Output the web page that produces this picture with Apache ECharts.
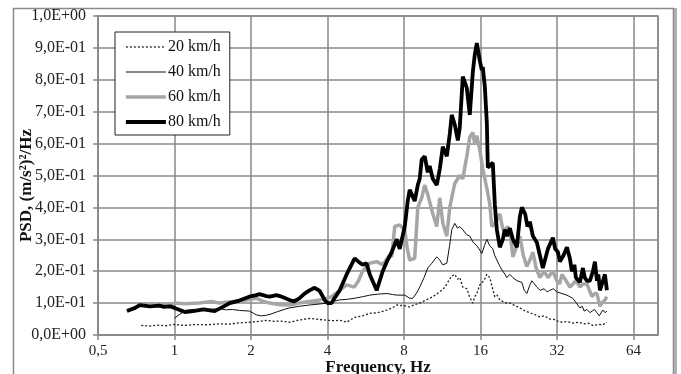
<!DOCTYPE html>
<html>
<head>
<meta charset="utf-8">
<script src="https://cdn.jsdelivr.net/npm/echarts@6/dist/echarts.min.js"></script>
<style>html,body{margin:0;padding:0;background:#fff}#c{width:681px;height:374px}</style>
</head>
<body>
<div id="c"></div>
<script>
var seriesNames = ['20 km/h', '40 km/h', '60 km/h', '80 km/h'];
var xTicks = [0.5, 1, 2, 4, 8, 16, 32, 64];

var psd20 = [[0.74,0.03],[0.8,0.028],[0.85,0.031],[0.92,0.029],[1.0,0.033],[1.1,0.03],[1.2,0.033],[1.35,0.032],[1.5,0.035],[1.65,0.034],[1.8,0.038],[1.97,0.04],[2.1,0.042],[2.3,0.046],[2.45,0.043],[2.6,0.044],[2.84,0.04],[3.1,0.047],[3.4,0.052],[3.7,0.049],[4.0,0.046],[4.25,0.045],[4.5,0.046],[4.76,0.04],[5.1,0.055],[5.5,0.06],[5.87,0.068],[6.3,0.07],[6.85,0.078],[7.2,0.085],[7.5,0.094],[8.0,0.092],[8.43,0.088],[8.8,0.095],[9.23,0.10],[9.8,0.11],[10.39,0.12],[11.07,0.135],[11.6,0.15],[12.0,0.17],[12.34,0.185],[12.68,0.19],[13.0,0.175],[13.27,0.18],[13.64,0.15],[14.14,0.145],[14.5,0.12],[14.94,0.10],[15.2,0.12],[15.49,0.13],[15.91,0.157],[16.5,0.17],[16.96,0.19],[17.42,0.18],[17.8,0.15],[18.23,0.12],[18.6,0.125],[19.08,0.11],[19.6,0.105],[20.33,0.10],[21.0,0.1],[21.5,0.095],[22.2,0.09],[22.87,0.085],[24.0,0.075],[25.0,0.07],[26.0,0.065],[27.42,0.057],[28.5,0.06],[30.0,0.05],[31.5,0.048],[32.88,0.04],[35.0,0.042],[37.0,0.037],[39.0,0.04],[41.0,0.035],[42.5,0.037],[44.36,0.03],[46.0,0.032],[47.0,0.033],[48.5,0.032],[50.35,0.04]];

var psd40 = [[1.0,0.053],[1.05,0.065],[1.115,0.078],[1.2,0.079],[1.3,0.08],[1.4,0.081],[1.5,0.082],[1.6,0.079],[1.69,0.08],[1.8,0.077],[1.97,0.075],[2.05,0.068],[2.1,0.063],[2.2,0.06],[2.3,0.062],[2.4,0.066],[2.52,0.072],[2.7,0.08],[2.84,0.085],[3.1,0.09],[3.4,0.094],[3.7,0.097],[4.0,0.10],[4.2,0.105],[4.47,0.11],[4.8,0.112],[5.1,0.115],[5.5,0.12],[5.87,0.125],[6.3,0.128],[6.85,0.13],[7.2,0.127],[7.5,0.125],[8.06,0.125],[8.43,0.115],[8.66,0.115],[8.95,0.13],[9.23,0.15],[9.6,0.18],[9.93,0.21],[10.3,0.225],[10.77,0.245],[11.07,0.235],[11.38,0.22],[11.8,0.225],[12.1,0.28],[12.34,0.33],[12.68,0.35],[13.0,0.335],[13.27,0.34],[13.64,0.33],[14.1,0.315],[14.53,0.31],[15.0,0.29],[15.49,0.28],[15.8,0.27],[16.2,0.255],[16.6,0.28],[16.96,0.30],[17.4,0.28],[17.9,0.27],[18.2,0.25],[18.57,0.235],[19.1,0.215],[19.6,0.20],[20.0,0.19],[20.33,0.18],[20.9,0.19],[21.47,0.18],[22.3,0.17],[23.29,0.165],[23.8,0.14],[24.37,0.13],[25.0,0.155],[25.5,0.17],[26.1,0.16],[26.69,0.15],[27.5,0.14],[28.5,0.145],[29.3,0.135],[30.0,0.14],[31.0,0.145],[32.0,0.135],[33.5,0.13],[35.0,0.125],[36.0,0.12],[36.99,0.115],[38.2,0.1],[39.42,0.085],[40.3,0.09],[41.0,0.075],[42.0,0.08],[43.18,0.07],[44.0,0.075],[45.0,0.08],[46.0,0.07],[47.0,0.06],[47.8,0.07],[48.57,0.078],[49.5,0.07],[50.35,0.075]];

var psd60 = [[0.87,0.095],[0.95,0.094],[1.0,0.10],[1.1,0.098],[1.25,0.10],[1.4,0.105],[1.5,0.10],[1.7,0.105],[1.85,0.108],[2.0,0.112],[2.1,0.115],[2.25,0.105],[2.37,0.10],[2.6,0.095],[2.84,0.094],[3.1,0.10],[3.4,0.105],[3.73,0.11],[4.0,0.115],[4.15,0.12],[4.47,0.14],[4.76,0.157],[5.1,0.15],[5.3,0.17],[5.5,0.20],[5.87,0.225],[6.25,0.23],[6.6,0.22],[7.03,0.25],[7.16,0.245],[7.36,0.34],[7.7,0.345],[8.06,0.33],[8.25,0.27],[8.43,0.235],[8.82,0.24],[9.07,0.40],[9.4,0.43],[9.66,0.47],[9.93,0.44],[10.39,0.38],[10.77,0.34],[11.07,0.43],[11.38,0.35],[11.8,0.31],[12.12,0.40],[12.68,0.475],[13.27,0.50],[13.64,0.49],[14.14,0.56],[14.53,0.62],[14.94,0.635],[15.2,0.6],[15.49,0.625],[15.91,0.58],[16.35,0.52],[16.96,0.46],[17.42,0.41],[17.74,0.34],[18.2,0.35],[18.57,0.36],[19.08,0.38],[19.5,0.34],[19.96,0.32],[20.4,0.34],[20.89,0.33],[21.47,0.245],[22.26,0.28],[22.87,0.31],[23.6,0.25],[24.37,0.215],[25.05,0.235],[25.74,0.26],[26.5,0.21],[27.42,0.18],[28.5,0.20],[29.5,0.18],[30.86,0.20],[32.0,0.17],[32.8,0.16],[33.5,0.19],[34.8,0.17],[36.0,0.15],[37.0,0.16],[38.0,0.17],[39.5,0.15],[40.5,0.16],[42.0,0.16],[43.0,0.14],[43.97,0.12],[45.0,0.13],[46.0,0.13],[47.27,0.09],[48.0,0.1],[48.57,0.10],[49.5,0.11],[50.35,0.12]];

var psd80 = [[0.65,0.075],[0.70,0.085],[0.73,0.094],[0.80,0.09],[0.87,0.092],[0.91,0.088],[0.96,0.09],[1.0,0.085],[1.05,0.078],[1.1,0.072],[1.2,0.076],[1.3,0.08],[1.44,0.075],[1.55,0.088],[1.65,0.10],[1.8,0.108],[1.97,0.12],[2.1,0.125],[2.16,0.128],[2.3,0.122],[2.37,0.12],[2.52,0.125],[2.6,0.122],[2.84,0.11],[2.95,0.105],[3.1,0.115],[3.25,0.13],[3.4,0.14],[3.56,0.148],[3.73,0.138],[3.9,0.11],[4.0,0.10],[4.15,0.10],[4.3,0.12],[4.47,0.14],[4.76,0.19],[5.12,0.24],[5.3,0.23],[5.5,0.22],[5.7,0.225],[5.87,0.19],[6.25,0.14],[6.6,0.20],[6.85,0.23],[7.16,0.26],[7.5,0.30],[7.7,0.27],[8.06,0.34],[8.28,0.42],[8.43,0.455],[8.82,0.42],[9.07,0.47],[9.23,0.49],[9.4,0.55],[9.66,0.56],[9.93,0.51],[10.1,0.53],[10.39,0.49],[10.77,0.47],[11.07,0.52],[11.38,0.59],[11.8,0.56],[12.12,0.63],[12.34,0.69],[12.68,0.66],[13.04,0.61],[13.27,0.65],[13.64,0.81],[14.14,0.775],[14.53,0.69],[14.94,0.825],[15.21,0.88],[15.49,0.915],[15.91,0.86],[16.2,0.83],[16.35,0.84],[16.65,0.78],[16.96,0.665],[17.11,0.525],[17.42,0.52],[17.9,0.54],[18.23,0.41],[18.57,0.33],[19.08,0.275],[19.6,0.30],[19.96,0.33],[20.4,0.31],[20.89,0.335],[21.47,0.30],[22.26,0.275],[22.87,0.37],[23.29,0.40],[24.0,0.38],[24.5,0.34],[25.05,0.355],[25.74,0.31],[26.69,0.29],[27.42,0.25],[28.18,0.21],[29.5,0.27],[30.86,0.305],[31.5,0.27],[32.29,0.26],[32.88,0.23],[34.0,0.25],[35.04,0.275],[36.0,0.24],[36.66,0.20],[37.5,0.22],[38.0,0.18],[39.42,0.165],[40.5,0.21],[41.2,0.18],[42.0,0.17],[43.18,0.17],[44.36,0.20],[45.17,0.23],[46.0,0.17],[46.6,0.19],[47.27,0.14],[48.57,0.17],[49.45,0.19],[50.35,0.14]];

function fmtY(v) {
  if (Math.abs(v) < 1e-9) return '0,0E+00';
  var e = Math.floor(Math.log10(v) + 1e-9);
  var m = v / Math.pow(10, e);
  var es = (e < 0 ? '-' : '+') + (Math.abs(e) < 10 ? '0' : '') + Math.abs(e);
  return m.toFixed(1).replace('.', ',') + 'E' + es;
}
function fmtX(v) {
  for (var i = 0; i < xTicks.length; i++) {
    if (Math.abs(v - xTicks[i]) < 1e-6) return String(xTicks[i]).replace('.', ',');
  }
  return '';
}

var chart = echarts.init(document.getElementById('c'), null, {renderer: 'canvas'});
var serif = '"Liberation Serif", "Times New Roman", serif';
chart.setOption({
  animation: false,
  backgroundColor: '#fff',
  graphic: [
    {type: 'rect', shape: {x: 13.5, y: 8.5, width: 660, height: 380}, style: {fill: 'none', stroke: '#8a8a8a', lineWidth: 1.5}, z: -1},
    {type: 'rect', shape: {x: 674, y: 8, width: 3, height: 380}, style: {fill: '#b0b0b0'}, z: -1}
  ],
  grid: {left: 98, right: 23, top: 16, bottom: 39, containLabel: false, outerBoundsMode: 'none', show: true, borderColor: '#888', borderWidth: 1.5, backgroundColor: 'transparent'},
  legend: {
    orient: 'vertical', left: 115, top: 32,
    backgroundColor: '#fff', borderColor: '#222', borderWidth: 1,
    padding: [7, 9, 5, 9], itemGap: 9, itemHeight: 16, itemWidth: 40,
    itemStyle: {opacity: 0},
    lineStyle: {width: 'inherit'},
    textStyle: {fontFamily: serif, fontSize: 16, color: '#111', padding: [0, 0, 0, -3]},
    data: seriesNames
  },
  xAxis: {
    type: 'log', logBase: 2, min: 0.5, max: 80,
    name: 'Frequency, Hz', nameLocation: 'middle', nameGap: 24, nameMoveOverlap: false,
    nameTextStyle: {fontFamily: serif, fontSize: 17, fontWeight: 'bold', color: '#111'},
    axisLine: {show: true, lineStyle: {color: '#888', width: 1.5}},
    axisTick: {show: true, length: 5, lineStyle: {color: '#888', width: 1.5}},
    axisLabel: {formatter: fmtX, fontFamily: serif, fontSize: 15, color: '#222', margin: 9, showMaxLabel: false},
    splitLine: {show: true, lineStyle: {color: '#888', width: 1.5}},
    minorTick: {show: false}
  },
  yAxis: {
    type: 'value', min: 0, max: 1, interval: 0.1,
    name: 'PSD, (m/s\u00b2)\u00b2/Hz', nameLocation: 'middle', nameGap: 63, nameRotate: 90, nameMoveOverlap: false,
    nameTextStyle: {fontFamily: serif, fontSize: 17, fontWeight: 'bold', color: '#111', padding: [0, 20, 0, 0]},
    axisLine: {show: true, lineStyle: {color: '#888', width: 1.5}},
    axisTick: {show: true, length: 5, lineStyle: {color: '#888', width: 1.5}},
    axisLabel: {formatter: fmtY, fontFamily: serif, fontSize: 16, color: '#222', margin: 12},
    splitLine: {show: true, lineStyle: {color: '#888', width: 1.5}}
  },
  series: [
    {name: seriesNames[0], type: 'line', data: psd20, symbol: 'none', lineStyle: {color: '#222', width: 1.3, type: [2, 2]}, itemStyle: {color: '#222'}, z: 5},
    {name: seriesNames[1], type: 'line', data: psd40, symbol: 'none', lineStyle: {color: '#111', width: 1}, itemStyle: {color: '#111'}, z: 6},
    {name: seriesNames[2], type: 'line', data: psd60, symbol: 'none', lineStyle: {color: '#a6a6a6', width: 3.5}, itemStyle: {color: '#a6a6a6'}, z: 3},
    {name: seriesNames[3], type: 'line', data: psd80, symbol: 'none', lineStyle: {color: '#000', width: 3.8}, itemStyle: {color: '#000'}, z: 4}
  ]
});
</script>
</body>
</html>
